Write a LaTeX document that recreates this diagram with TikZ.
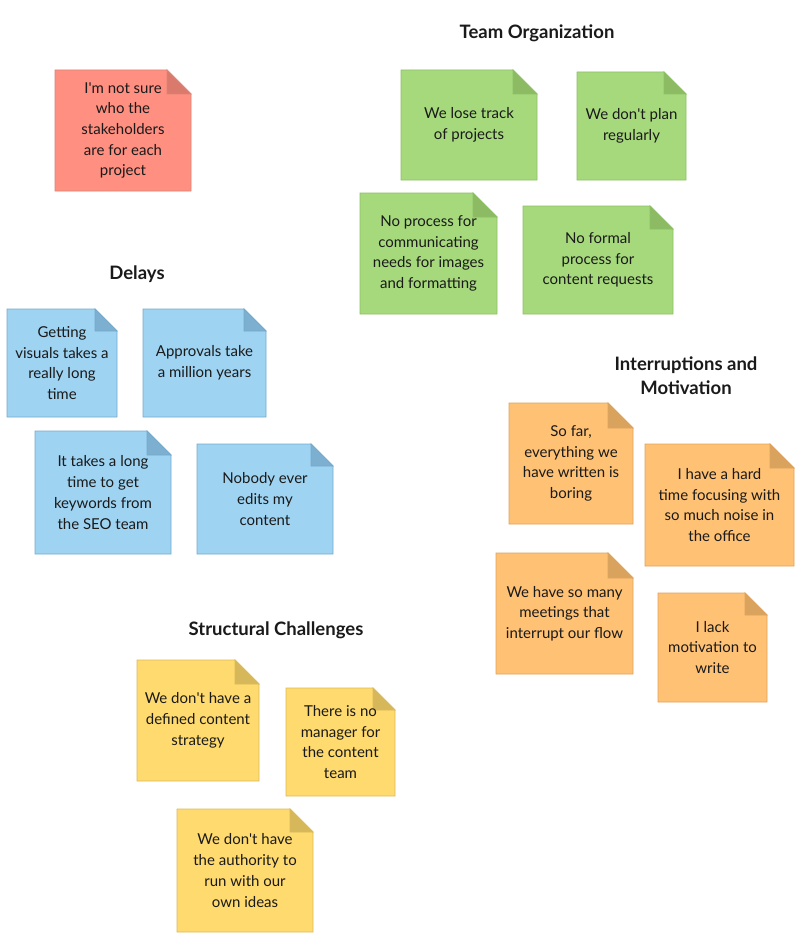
\documentclass[tikz,border=0pt]{standalone}
\usepackage{fontspec}
\setmainfont{Lato}
\definecolor{txt}{HTML}{1A1A1A}
\definecolor{rfill}{HTML}{FF8F80}\definecolor{rline}{HTML}{DB8577}\definecolor{rfoldc}{HTML}{D97A6D}
\definecolor{gfill}{HTML}{A6D87C}\definecolor{gline}{HTML}{8DBF66}\definecolor{gfoldc}{HTML}{8CBB64}
\definecolor{bfill}{HTML}{9FD3F2}\definecolor{bline}{HTML}{74AACB}\definecolor{bfoldc}{HTML}{7DB0D0}
\definecolor{ofill}{HTML}{FFC173}\definecolor{oline}{HTML}{DDA35E}\definecolor{ofoldc}{HTML}{D9A35E}
\definecolor{yfill}{HTML}{FFDA6E}\definecolor{yline}{HTML}{D9B95A}\definecolor{yfoldc}{HTML}{D6B85A}
\newcommand\apos{\textquotesingle}
\tikzset{
  redfill/.style={fill=rfill,draw=rline,line width=0.8pt},
  redfold/.style={fill=rfoldc,draw=rline,line width=0.8pt},
  greenfill/.style={fill=gfill,draw=gline,line width=0.8pt},
  greenfold/.style={fill=gfoldc,draw=gline,line width=0.8pt},
  bluefill/.style={fill=bfill,draw=bline,line width=0.8pt},
  bluefold/.style={fill=bfoldc,draw=bline,line width=0.8pt},
  orangefill/.style={fill=ofill,draw=oline,line width=0.8pt},
  orangefold/.style={fill=ofoldc,draw=oline,line width=0.8pt},
  yellowfill/.style={fill=yfill,draw=yline,line width=0.8pt},
  yellowfold/.style={fill=yfoldc,draw=yline,line width=0.8pt},
  notetext/.style={align=center,text=txt,inner sep=0pt,font=\fontsize{15}{20.7}\selectfont},
  grouptitle/.style={align=center,text=txt,inner sep=0pt,font=\bfseries\fontsize{18.5}{24}\selectfont}
}
\newcommand\stickynote[8]{%
  \filldraw[#7fill] (#2,#3) -- (#4-#6,#3) -- (#4,#3+#6) -- (#4,#5) -- (#2,#5) -- cycle;
  \filldraw[#7fold] (#4-#6,#3) -- (#4-#6,#3+#6) -- (#4,#3+#6) -- cycle;
  \node[notetext] (#1) at ({(#2+#4)/2},{(#3+#5)/2}) {#8};
}
\begin{document}
\begin{tikzpicture}[x=1pt,y=-1pt]
\useasboundingbox (0,0) rectangle (800,939);
% titles
\node[grouptitle] (tTeam) at (537,33) {Team Organization};
\node[grouptitle] (tDelays) at (137,274) {Delays};
\node[grouptitle] (tInt) at (686,376) {Interruptions and\\Motivation};
\node[grouptitle] (tStruct) at (276,630) {Structural Challenges};
% red
\stickynote{r1}{55}{70}{191}{191}{24}{red}{I\apos m not sure\\who the\\stakeholders\\are for each\\project}
% green
\stickynote{g1}{401}{70}{537}{180}{24}{green}{We lose track\\of projects}
\stickynote{g2}{577}{72}{686}{180}{22}{green}{We don\apos t plan\\regularly}
\stickynote{g3}{360}{193}{497}{314}{24}{green}{No process for\\communicating\\needs for images\\and formatting}
\stickynote{g4}{523}{206}{673}{314}{23}{green}{No formal\\process for\\content requests}
% blue
\stickynote{b1}{7}{309}{117}{417}{22}{blue}{Getting\\visuals takes a\\really long\\time}
\stickynote{b2}{143}{309}{266}{417}{22}{blue}{Approvals take\\a million years}
\stickynote{b3}{35}{431}{171}{554}{24}{blue}{It takes a long\\time to get\\keywords from\\the SEO team}
\stickynote{b4}{197}{444}{333}{554}{22}{blue}{Nobody ever\\edits my\\content}
% orange
\stickynote{o1}{509}{403}{633}{524}{25}{orange}{So far,\\everything we\\have written is\\boring}
\stickynote{o2}{645}{444}{794}{566}{24}{orange}{I have a hard\\time focusing with\\so much noise in\\the office}
\stickynote{o3}{496}{553}{633}{674}{25}{orange}{We have so many\\meetings that\\interrupt our flow}
\stickynote{o4}{658}{593}{767}{702}{22}{orange}{I lack\\motivation to\\write}
% yellow
\stickynote{y1}{137}{660}{259}{781}{24}{yellow}{We don\apos t have a\\defined content\\strategy}
\stickynote{y2}{286}{688}{395}{796}{22}{yellow}{There is no\\manager for\\the content\\team}
\stickynote{y3}{177}{809}{313}{932}{23}{yellow}{We don\apos t have\\the authority to\\run with our\\own ideas}
\end{tikzpicture}
\end{document}
